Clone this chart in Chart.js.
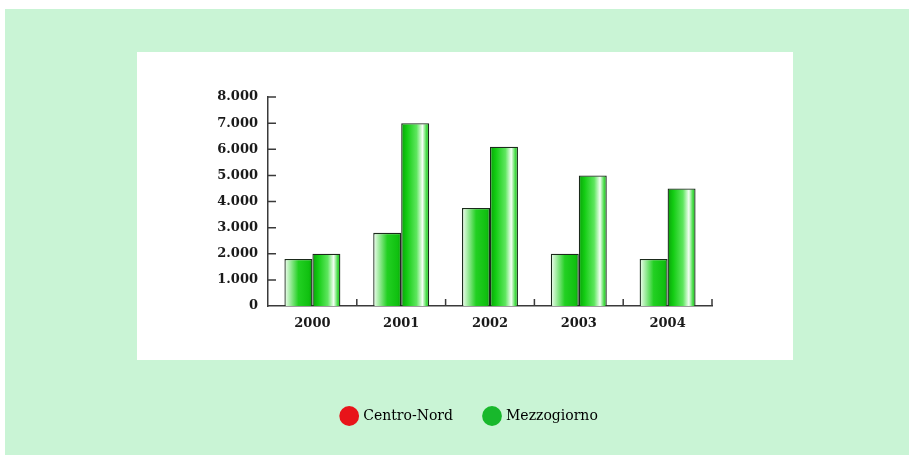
<!DOCTYPE html>
<html>
<head>
<meta charset="utf-8">
<script src="https://cdn.jsdelivr.net/npm/chart.js@4"></script>
<style>
    html, body { margin: 0; padding: 0; background: #ffffff; }
    #wrap { width: 909px; height: 455px; }
</style>
</head>
<body>
<div id="wrap"><canvas id="chart" width="909" height="455"></canvas></div>
<script>
// Data
const years = ['2000', '2001', '2002', '2003', '2004'];
const centroNord = [1800, 2800, 3750, 2000, 1800];
const mezzogiorno = [2000, 7000, 6100, 5000, 4500];
const seriesNames = ['Centro-Nord', 'Mezzogiorno'];
const yTicks = [0, 1000, 2000, 3000, 4000, 5000, 6000, 7000, 8000];

const legendColors = ['#e8141a', '#18b82c'];
const CAT_PCT = 0.63;
const axisColor = '#3a3a3a';

// cylinder-ish shading, like the printed bars
const shades = [
    [[0, '#f6fff6'], [0.5, '#22d022'], [0.88, '#10c010'], [1, '#0a9a0a']],
    [[0, '#0aa00a'], [0.2, '#12cc12'], [0.55, '#5ee65e'], [0.76, '#f4fff4'], [0.9, '#48dc48'], [1, '#18c418']]
];

function barFill(context) {
    const chart = context.chart;
    const xs = chart.scales.x;
    if (context.type !== 'data' || !xs || !chart.chartArea) {
        return legendColors[1];
    }
    const barW = (xs.width / years.length) * CAT_PCT / 2;
    const center = xs.getPixelForValue(context.dataIndex);
    const left = context.datasetIndex === 0 ? center - barW : center;
    const g = chart.ctx.createLinearGradient(left, 0, left + barW, 0);
    shades[context.datasetIndex].forEach(([stop, col]) => g.addColorStop(stop, col));
    return g;
}

const fmt = v => String(v).replace(/\B(?=(\d{3})+(?!\d))/g, '.');

// page background: mint frame with a white panel
const backdrop = {
    id: 'backdrop',
    beforeDraw(chart) {
        const c = chart.ctx;
        c.save();
        c.fillStyle = '#c9f4d5';
        c.fillRect(5, 9, 904, 446);
        c.fillStyle = '#ffffff';
        c.fillRect(137, 52, 656, 308);
        c.restore();
    }
};

// legend sits a bit right of the plot's centre in the original
const legendShift = {
    id: 'legendShift',
    afterLayout(chart) {
        if (chart.legend) {
            chart.legend.left += 14;
            chart.legend.right += 14;
        }
    }
};

// small inward tick marks on both axes
const innerTicks = {
    id: 'innerTicks',
    afterDatasetsDraw(chart) {
        const c = chart.ctx;
        const xs = chart.scales.x;
        const ys = chart.scales.y;
        const area = chart.chartArea;
        c.save();
        c.strokeStyle = axisColor;
        c.lineWidth = 1.5;
        c.beginPath();
        yTicks.forEach(v => {
            const y = ys.getPixelForValue(v);
            if (v > 0) {
                c.moveTo(area.left, y);
                c.lineTo(area.left + 8, y);
            }
        });
        const catW = xs.width / years.length;
        years.forEach((_, i) => {
            const x = xs.getPixelForValue(i) + catW / 2;
            c.moveTo(x, area.bottom);
            c.lineTo(x, area.bottom - 7);
        });
        c.stroke();
        c.restore();
    }
};

new Chart(document.getElementById('chart'), {
    type: 'bar',
    data: {
        labels: years,
        datasets: [{
            label: seriesNames[0],
            data: centroNord,
            backgroundColor: barFill,
            borderColor: '#1b2a1b',
            borderWidth: 1.3
        }, {
            label: seriesNames[1],
            data: mezzogiorno,
            backgroundColor: barFill,
            borderColor: '#1b2a1b',
            borderWidth: 1.3
        }]
    },
    options: {
        responsive: false,
        animation: false,
        datasets: {
            bar: {
                barPercentage: 1,
                categoryPercentage: CAT_PCT
            }
        },
        layout: {
            padding: { left: 200, top: 97, right: 197, bottom: 22 }
        },
        plugins: {
            tooltip: { enabled: false },
            legend: {
                position: 'bottom',
                labels: {
                    usePointStyle: true,
                    pointStyle: 'circle',
                    boxWidth: 14,
                    boxHeight: 14,
                    padding: 32,
                    color: '#222222',
                    font: { family: "'DejaVu Serif', serif", size: 14 },
                    generateLabels: chart => seriesNames.map((name, i) => ({
                        text: name,
                        fillStyle: legendColors[i],
                        strokeStyle: '#7a1010',
                        lineWidth: 0,
                        pointStyle: 'circle',
                        datasetIndex: i
                    }))
                }
            }
        },
        scales: {
            x: {
                grid: { display: false, drawTicks: false },
                border: { color: axisColor, width: 1.5 },
                ticks: {
                    padding: 10,
                    color: '#1a1a1a',
                    font: { family: "'DejaVu Serif', serif", size: 13, weight: 'bold' }
                },
                afterFit: scale => { scale.height = 71; }
            },
            y: {
                min: 0,
                max: 8000,
                grid: { display: false, drawTicks: false },
                border: { color: axisColor, width: 1.5 },
                afterBuildTicks: scale => {
                    scale.ticks = yTicks.map(v => ({ value: v }));
                },
                ticks: {
                    padding: 10,
                    color: '#1a1a1a',
                    font: { family: "'DejaVu Serif', serif", size: 13, weight: 'bold' },
                    callback: v => fmt(v)
                },
                afterFit: scale => { scale.width = 68; }
            }
        }
    },
    plugins: [backdrop, legendShift, innerTicks]
});
</script>
</body>
</html>
